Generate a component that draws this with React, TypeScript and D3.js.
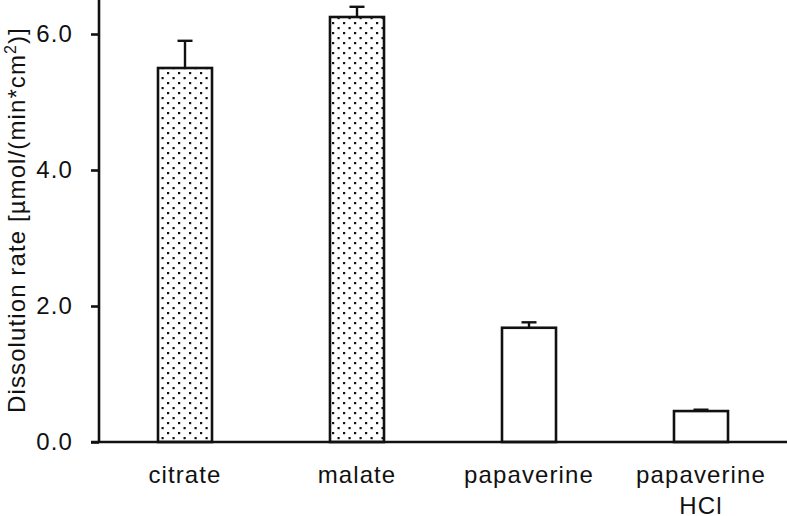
import * as d3 from 'd3';
import React, { useRef, useEffect } from 'react';

// data
const categories = ['citrate', 'malate', 'papaverine', 'papaverine\nHCl'];
const rates = [5.5, 6.25, 1.68, 0.455];
const errors = [0.4, 0.15, 0.08, 0.02];
const dotted = [true, true, false, false];
const yTicks = [0, 2, 4, 6];

const W = 787;
const H = 516;

function App() {
  const ref = useRef<SVGSVGElement>(null);

  useEffect(() => {
    const svg = d3.select(ref.current);
    svg.selectAll('*').remove();

    const font = 'Liberation Sans, Arial, Helvetica, sans-serif';
    const fs = 24;
    const ls = 1.1;
    const x0 = 99;
    const yBase = 442;

    const x = d3.scaleBand<string>().domain(categories).range([x0, 787]).paddingInner(0.686).paddingOuter(0.343);
    const y = d3.scaleLinear().domain([0, 6.5]).range([yBase, 0]);

    const defs = svg.append('defs');
    const pat = defs.append('pattern')
      .attr('id', 'dots')
      .attr('patternUnits', 'userSpaceOnUse')
      .attr('width', 11)
      .attr('height', 10);
    pat.append('rect').attr('width', 11).attr('height', 10).attr('fill', '#fff');
    pat.append('rect').attr('x', 2).attr('y', 2).attr('width', 2.2).attr('height', 2.2).attr('fill', '#111');
    pat.append('rect').attr('x', 7.5).attr('y', 7).attr('width', 2.2).attr('height', 2.2).attr('fill', '#111');

    // bars
    svg.append('g').selectAll('rect')
      .data(categories).enter()
      .append('rect')
      .attr('x', d => x(d)!)
      .attr('y', (d, i) => y(rates[i]))
      .attr('width', x.bandwidth())
      .attr('height', (d, i) => yBase - y(rates[i]))
      .attr('fill', (d, i) => dotted[i] ? 'url(#dots)' : '#fff')
      .attr('stroke', '#111')
      .attr('stroke-width', 2.6);

    // error bars (upper only)
    const eb = svg.append('g').attr('stroke', '#111').attr('stroke-width', 2.4);
    categories.forEach((c, i) => {
      const cx = x(c)! + x.bandwidth() / 2;
      eb.append('line').attr('x1', cx).attr('x2', cx).attr('y1', y(rates[i])).attr('y2', y(rates[i] + errors[i]));
      eb.append('line').attr('x1', cx - 7.5).attr('x2', cx + 7.5).attr('y1', y(rates[i] + errors[i])).attr('y2', y(rates[i] + errors[i]));
    });

    // y axis
    const yAxis = d3.axisLeft(y).tickValues(yTicks).tickSize(8).tickFormat(d3.format('.1f'));
    const gy = svg.append('g').attr('transform', `translate(${x0},0)`).call(yAxis);
    gy.select('.domain').attr('d', `M0,0V${yBase}`).attr('stroke', '#111').attr('stroke-width', 2.6);
    gy.selectAll('.tick line').attr('stroke', '#111').attr('stroke-width', 2.6);
    gy.selectAll('.tick text')
      .attr('x', -26)
      .attr('font-family', font)
      .attr('font-size', fs)
      .attr('letter-spacing', ls)
      .attr('fill', '#111');

    // x axis baseline
    svg.append('line')
      .attr('x1', x0 - 8).attr('x2', W)
      .attr('y1', yBase).attr('y2', yBase)
      .attr('stroke', '#111').attr('stroke-width', 2.6);

    // category labels
    categories.forEach(c => {
      const cx = x(c)! + x.bandwidth() / 2;
      const t = svg.append('text')
        .attr('x', cx)
        .attr('y', 483)
        .attr('text-anchor', 'middle')
        .attr('font-family', font)
        .attr('font-size', fs)
        .attr('letter-spacing', ls)
        .attr('fill', '#111');
      c.split('\n').forEach((line, j) => {
        t.append('tspan').attr('x', cx).attr('dy', j === 0 ? 0 : 31).text(line);
      });
    });

    // y title
    const title = svg.append('text')
      .attr('transform', `translate(25,220) rotate(-90)`)
      .attr('text-anchor', 'middle')
      .attr('font-family', font)
      .attr('font-size', fs)
      .attr('letter-spacing', ls)
      .attr('fill', '#111');
    title.append('tspan').text('Dissolution rate [µmol/(min*cm');
    title.append('tspan').attr('font-size', 16).attr('dy', -9).text('2');
    title.append('tspan').attr('dy', 9).text(')]');
  }, []);

  return (
    <svg ref={ref} width={W} height={H} style={{ position: 'absolute', left: 0, top: 0, background: '#fff' }} />
  );
}

export default App;
